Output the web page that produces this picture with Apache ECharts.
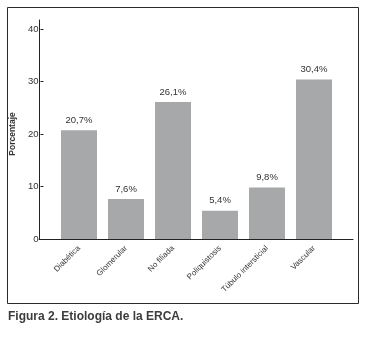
<!DOCTYPE html>
<html>
<head>
<meta charset="utf-8">
<script src="https://cdn.jsdelivr.net/npm/echarts@6/dist/echarts.min.js"></script>
<style>
html,body{margin:0;padding:0;background:#fff;}
#c{width:371px;height:343px;}
</style>
</head>
<body>
<div id="c"></div>
<script>
const categories = ['Diabética', 'Glomerular', 'No filiada', 'Poliquistosis', 'Túbulo intersticial', 'Vascular'];
const values = [20.7, 7.6, 26.1, 5.4, 9.8, 30.4];
const yTicks = [0, 10, 20, 30, 40];
const yAxisTitle = 'Porcentaje';
const captionBold = 'Figura 2.';
const captionText = ' Etiología de la ERCA.';

const FONT = '"Liberation Sans Narrow", "Arial Narrow", "Liberation Sans", sans-serif';
const yMin = yTicks[0], yMax = yTicks[yTicks.length - 1];
const chart = echarts.init(document.getElementById('c'), null, {renderer: 'canvas'});
chart.setOption({
  animation: false,
  textStyle: {fontFamily: FONT},
  title: {
    left: 8, top: 311, padding: 0,
    text: '{b|' + captionBold + '}{n|' + captionText + '}',
    textStyle: {
      rich: {
        b: {fontFamily: FONT, fontSize: 12, fontWeight: 'bold', color: '#3c3c3c'},
        n: {fontFamily: FONT, fontSize: 12, color: '#3c3c3c'}
      }
    }
  },
  graphic: [{
    type: 'rect',
    shape: {x: 7.5, y: 7.5, width: 351, height: 296},
    style: {fill: 'none', stroke: '#2a2a2a', lineWidth: 1}
  }],
  grid: [
    {left: 39, right: 18, top: 20, bottom: 104},
    {left: 55.5, width: 282, top: 29, bottom: 104},
    {left: 39, right: 18, top: 29, bottom: 104}
  ],
  xAxis: [
    {gridIndex: 0, type: 'category', data: categories,
     axisLine: {show: true, lineStyle: {color: '#222', width: 1}},
     axisTick: {show: false}, axisLabel: {show: false}},
    {gridIndex: 1, type: 'category', data: categories,
     axisLine: {show: false}, axisTick: {show: false},
     axisLabel: {rotate: 45, fontSize: 8, color: '#333', margin: 8, interval: 0, fontFamily: FONT}},
    {gridIndex: 2, type: 'category', data: categories, show: false}
  ],
  yAxis: [
    {gridIndex: 0, type: 'value', min: 0, max: 41.7,
     axisLine: {show: true, lineStyle: {color: '#222', width: 1}},
     axisTick: {show: false}, axisLabel: {show: false}, splitLine: {show: false}},
    {gridIndex: 1, type: 'value', min: yMin, max: yMax, show: false, splitLine: {show: false}},
    {gridIndex: 2, type: 'value', min: yMin, max: yMax, interval: 10,
     name: yAxisTitle, nameLocation: 'middle', nameGap: 21, nameRotate: 90,
     nameTextStyle: {fontSize: 8.5, fontWeight: 'bold', color: '#333', fontFamily: FONT},
     axisLine: {show: false},
     axisTick: {show: true, length: 3, inside: false, lineStyle: {color: '#222'}},
     axisLabel: {fontSize: 9.5, color: '#333', margin: 5, fontFamily: FONT},
     splitLine: {show: false}}
  ],
  series: [{
    type: 'bar', xAxisIndex: 1, yAxisIndex: 1,
    data: values, barWidth: 36,
    itemStyle: {color: '#a7a8aa'},
    label: {show: true, position: 'top', distance: 5, fontSize: 9.5, color: '#333', fontFamily: FONT,
      formatter: p => p.value.toFixed(1).replace('.', ',') + '%'}
  }]
});
</script>
</body>
</html>
